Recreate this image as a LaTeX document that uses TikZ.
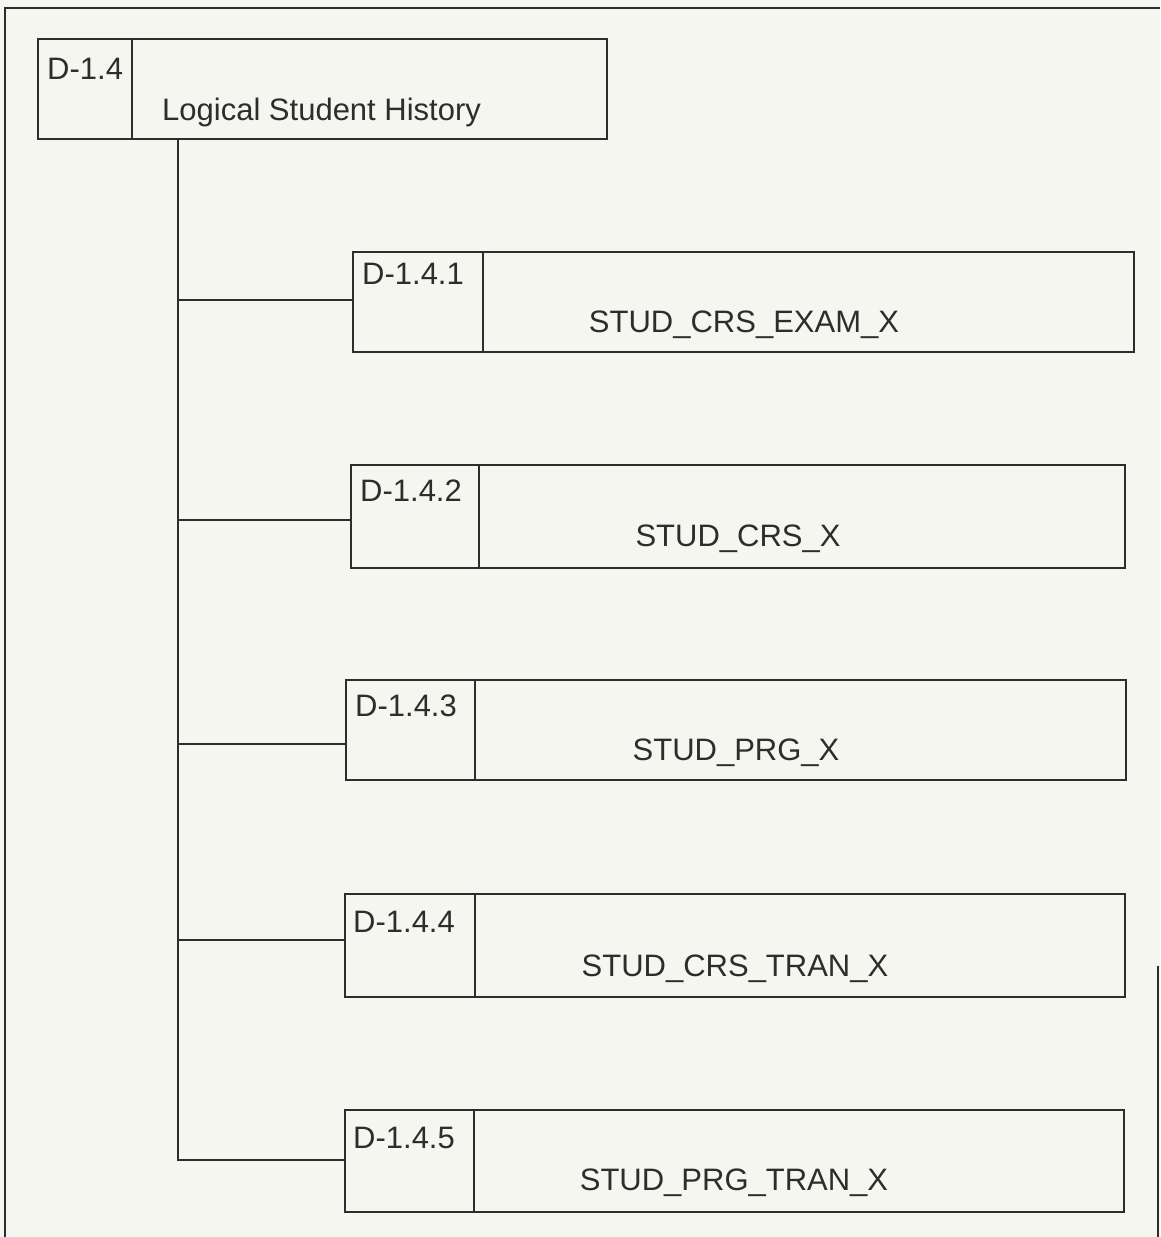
\documentclass[tikz,border=0pt]{standalone}
\usepackage{fontspec}
\setmainfont{Liberation Sans}
\definecolor{paper}{RGB}{246,246,240}
\definecolor{ink}{RGB}{45,45,45}
\tikzset{
  boxline/.style={draw=ink, line width=1.6pt},
  idbox/.style={boxline, rectangle, inner sep=0pt, anchor=north west},
  idtxt/.style={inner sep=0pt, anchor=north west, text=ink},
  nametxt/.style={inner sep=0pt, anchor=base, text=ink},
}
\begin{document}
\begin{tikzpicture}[x=1pt, y=-1pt, font=\fontsize{31}{37}\selectfont]
    \fill [paper] (0,0) rectangle (1160,1237);
    \useasboundingbox (0,0) rectangle (1160,1237);
    % frame
    \draw [boxline] (1160,8) -- (5,8) -- (5,1237);
    \draw [boxline] (1158,966) -- (1158,1237);

    % top entity
    \node [idbox, minimum width=94pt, minimum height=100pt] (top) at (37,38) {};
    \node [idbox, minimum width=475pt, minimum height=100pt] (topname) at (131,38) {};
    \node [idtxt] (topid) at (47,58) {D-1.4};
    \node [nametxt, anchor=base west] (toptxt) at (162,120) {Logical Student History};
    \coordinate (t0) at ([xshift=141pt]top.south west);

    % sub entities
    \foreach \i/\xl/\xd/\xr/\yt/\yb/\by/\ix/\iy/\lx/\ly/\lbl in {
        1/352/482/1133/251/351/300/362/263/744/332/STUD\_CRS\_EXAM\_X,
        2/350/478/1124/464/567/520/360/480/738/546/STUD\_CRS\_X,
        3/345/474/1125/679/779/744/355/695/736/760/STUD\_PRG\_X,
        4/344/474/1124/893/996/940/353/911/735/976/STUD\_CRS\_TRAN\_X,
        5/344/473/1123/1109/1211/1160/353/1127/734/1190/STUD\_PRG\_TRAN\_X}
    {
        \node [idbox, minimum width={(\xd-\xl)*1pt}, minimum height={(\yb-\yt)*1pt}] (c\i) at (\xl,\yt) {};
        \node [idbox, minimum width={(\xr-\xd)*1pt}, minimum height={(\yb-\yt)*1pt}] (n\i) at (\xd,\yt) {};
        \node [idtxt] (c\i-id) at (\ix,\iy) {D-1.4.\i};
        \node [nametxt] (n\i-txt) at (\lx,\ly) {\lbl};
        \coordinate (b\i) at (c\i.west |- 0,\by);
    }

    % tree connectors
    \draw [boxline] (t0) |- (b5);
    \foreach \i in {1,...,4}
        {\draw [boxline] (t0 |- b\i) -- (b\i);}
\end{tikzpicture}
\end{document}
